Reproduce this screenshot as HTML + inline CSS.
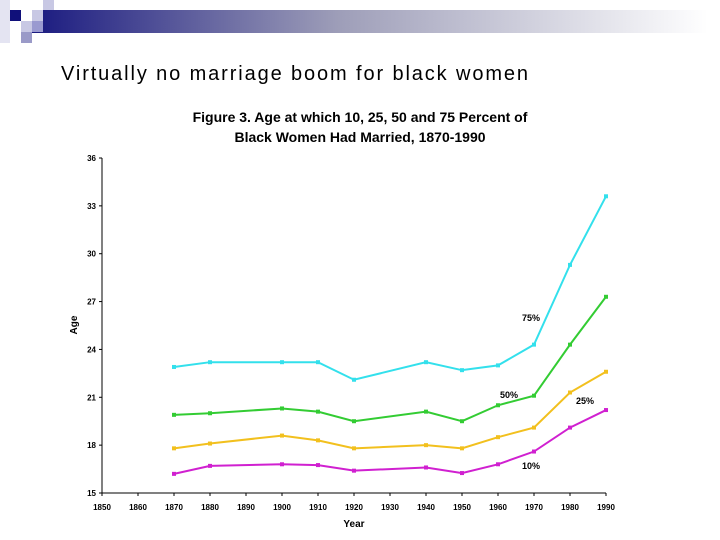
<!DOCTYPE html>
<html><head><meta charset="utf-8"><style>
html,body{margin:0;padding:0;background:#fff;}
svg{display:block;font-family:"Liberation Sans",Arial,sans-serif;}
</style></head><body>
<svg id="chart" width="720" height="540" viewBox="0 0 720 540">
<defs><linearGradient id="g" x1="0" x2="1"><stop offset="0" stop-color="#1a1a80"/><stop offset="0.45" stop-color="#9d9db8"/><stop offset="1" stop-color="#ffffff"/></linearGradient></defs>
<g>
<rect x="0" y="0" width="10" height="43" fill="#e4e4f2"/>
<rect x="32" y="10" width="676" height="23" fill="url(#g)"/>
<rect x="10" y="10" width="11" height="11" fill="#10107a"/>
<rect x="32" y="10" width="11" height="11" fill="#c8c8e4"/>
<rect x="43" y="0" width="11" height="10" fill="#c8c8e4"/>
<rect x="21" y="21" width="11" height="11" fill="#c8c8e4"/>
<rect x="32" y="21" width="11" height="11" fill="#9a9ad0"/>
<rect x="21" y="32" width="11" height="11" fill="#9a9ac8"/>
</g>
<text x="61" y="80" font-size="20" textLength="467" lengthAdjust="spacing">Virtually no marriage boom for black women</text>
<text x="360" y="122" font-size="14" font-weight="bold" text-anchor="middle">Figure 3.  Age at which 10, 25, 50 and 75 Percent of</text>
<text x="360" y="142" font-size="14" font-weight="bold" text-anchor="middle">Black Women Had Married, 1870-1990</text>
<text transform="translate(77,325) rotate(-90)" font-size="10" font-weight="bold" text-anchor="middle">Age</text>
<text x="354" y="527" font-size="10" font-weight="bold" text-anchor="middle">Year</text>
<g id="axes"></g><g id="series"></g>
<text x="531" y="321" font-size="9" font-weight="bold" text-anchor="middle">75%</text>
<text x="509" y="398" font-size="9" font-weight="bold" text-anchor="middle">50%</text>
<text x="585" y="404" font-size="9" font-weight="bold" text-anchor="middle">25%</text>
<text x="531" y="469" font-size="9" font-weight="bold" text-anchor="middle">10%</text>
</svg>
<script>
const years = [1870,1880,1900,1910,1920,1940,1950,1960,1970,1980,1990];
const p75 = [22.9,23.2,23.2,23.2,22.1,23.2,22.7,23.0,24.3,29.3,33.6];
const p50 = [19.9,20.0,20.3,20.1,19.5,20.1,19.5,20.5,21.1,24.3,27.3];
const p25 = [17.8,18.1,18.6,18.3,17.8,18.0,17.8,18.5,19.1,21.3,22.6];
const p10 = [16.2,16.7,16.8,16.75,16.4,16.6,16.25,16.8,17.6,19.1,20.2];
const yTicks = [15,18,21,24,27,30,33,36];
const xTicks = [1850,1860,1870,1880,1890,1900,1910,1920,1930,1940,1950,1960,1970,1980,1990];
const NS="http://www.w3.org/2000/svg";
const X0=102,X1=606,Y0=493,Y1=158;
const xs=v=>X0+(v-1850)/(1990-1850)*(X1-X0);
const ys=v=>Y0-(v-15)/(36-15)*(Y0-Y1);
function mk(t,a,p){const e=document.createElementNS(NS,t);for(const k in a)e.setAttribute(k,a[k]);p.appendChild(e);return e;}
const ax=document.getElementById('axes');
let l=mk('line',{x1:X0,y1:Y1,x2:X0,y2:Y0,stroke:'#000','stroke-width':1},ax);


l=mk('line',{x1:X0,y1:Y0,x2:X1,y2:Y0,stroke:'#000','stroke-width':1},ax);


yTicks.forEach(v=>{
 const t=mk('line',{x1:X0-3,y1:ys(v),x2:X0,y2:ys(v),stroke:'#000'},ax);
 
 
 const tx=mk('text',{x:X0-6,y:ys(v)+3,'font-size':8,'font-weight':'bold','text-anchor':'end'},ax);
 tx.textContent=v;
 
 
});
xTicks.forEach(v=>{
 const t=mk('line',{x1:xs(v),y1:Y0,x2:xs(v),y2:Y0+3,stroke:'#000'},ax);
 
 
 const tx=mk('text',{x:xs(v),y:Y0+17,'font-size':8,'font-weight':'bold','text-anchor':'middle'},ax);
 tx.textContent=v;
 
 
});
const sg=document.getElementById('series');
[[p75,'#33e0ec','series-75-percent'],[p50,'#33cc33','series-50-percent'],[p25,'#f2c01e','series-25-percent'],[p10,'#d020d0','series-10-percent']].forEach(([d,c,n])=>{
 const pts=years.map((y,i)=>xs(y)+','+ys(d[i])).join(' ');
 const pl=mk('polyline',{points:pts,fill:'none',stroke:c,'stroke-width':2},sg);
 
 
 years.forEach((y,i)=>{
  const m=mk('rect',{x:xs(y)-2,y:ys(d[i])-2,width:4,height:4,fill:c},sg);
  
  
 });
});
</script>
</body></html>
